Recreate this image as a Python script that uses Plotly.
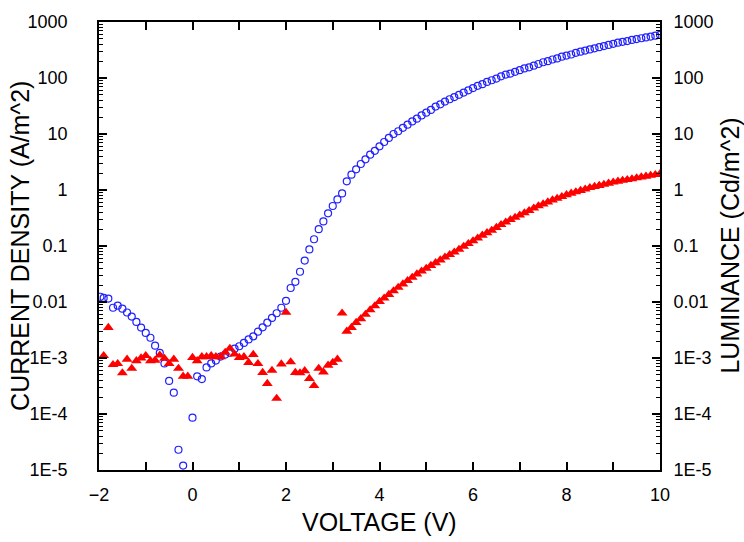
import plotly.graph_objects as go

# ---- data ----
voltage_j = [-1.97, -1.9, -1.8, -1.7, -1.6, -1.5, -1.4, -1.3, -1.2, -1.1, -1.0, -0.9, -0.8, -0.7,
             -0.6, -0.5, -0.4, -0.3, -0.2, -0.1, 0.0, 0.1, 0.2, 0.3, 0.4, 0.5, 0.6, 0.7, 0.8, 0.9,
             1.0, 1.1, 1.2, 1.3, 1.4, 1.5, 1.6, 1.7, 1.8, 1.9, 2.0, 2.1, 2.2, 2.3, 2.4, 2.5, 2.6,
             2.7, 2.8, 2.9, 3.0, 3.1, 3.2, 3.3, 3.4, 3.5, 3.6, 3.7, 3.8, 3.9, 4.0, 4.1, 4.2, 4.3,
             4.4, 4.5, 4.6, 4.7, 4.8, 4.9, 5.0, 5.1, 5.2, 5.3, 5.4, 5.5, 5.6, 5.7, 5.8, 5.9, 6.0,
             6.1, 6.2, 6.3, 6.4, 6.5, 6.6, 6.7, 6.8, 6.9, 7.0, 7.1, 7.2, 7.3, 7.4, 7.5, 7.6, 7.7,
             7.8, 7.9, 8.0, 8.1, 8.2, 8.3, 8.4, 8.5, 8.6, 8.7, 8.8, 8.9, 9.0, 9.1, 9.2, 9.3, 9.4,
             9.5, 9.6, 9.7, 9.8, 9.9, 10.0]
current_density = [0.0124, 0.0118, 0.0115, 0.0079, 0.0086, 0.0076, 0.0065, 0.0055, 0.0044, 0.0035,
                   0.0028, 0.0023, 0.00166, 0.00123, 0.0008, 0.00039, 0.00024, 2.3e-5, 1.2e-5, None,
                   8.6e-5, 0.00047, 0.00042, 0.00068, 0.0008, 0.0009, 0.00106, 0.00115, 0.00124,
                   0.00147, 0.00162, 0.00186, 0.00215, 0.00244, 0.00295, 0.00353, 0.00427, 0.0052,
                   0.0063, 0.0079, 0.0105, 0.0178, 0.0229, 0.0347, 0.055, 0.087, 0.132, 0.20, 0.275,
                   0.383, 0.518, 0.68, 0.87, 1.43, 1.88, 2.34, 2.91, 3.53, 4.27, 5.01, 6.03, 7.19,
                   8.51, 10.0, 11.2, 12.9, 14.7, 16.8, 18.8, 21.5, 24.0, 26.9, 30.9, 33.9, 38.0,
                   41.7, 45.7, 50.1, 55.0, 60.3, 66.1, 72.4, 77.6, 85.1, 91.2, 97.7, 107, 115, 120,
                   129, 138, 148, 155, 166, 178, 191, 200, 214, 224, 240, 251, 263, 282, 295, 309,
                   324, 339, 355, 372, 389, 407, 427, 442, 457, 479, 495, 513, 531, 550, 569, 589]

voltage_l = [-1.9, -1.8, -1.7, -1.6, -1.5, -1.4, -1.3, -1.2, -1.1, -1.0, -0.9, -0.8, -0.7, -0.6,
             -0.5, -0.4, -0.3, -0.2, -0.1, 0.0, 0.1, 0.2, 0.3, 0.4, 0.5, 0.6, 0.7, 0.8, 0.9, 1.0,
             1.1, 1.2, 1.3, 1.4, 1.5, 1.6, 1.7, 1.8, 1.9, 2.0, 2.1, 2.2, 2.3, 2.4, 2.5, 2.6, 2.7,
             2.8, 2.9, 3.0, 3.1, 3.2, 3.3, 3.4, 3.5, 3.6, 3.7, 3.8, 3.9, 4.0, 4.1, 4.2, 4.3, 4.4,
             4.5, 4.6, 4.7, 4.8, 4.9, 5.0, 5.1, 5.2, 5.3, 5.4, 5.5, 5.6, 5.7, 5.8, 5.9, 6.0, 6.1,
             6.2, 6.3, 6.4, 6.5, 6.6, 6.7, 6.8, 6.9, 7.0, 7.1, 7.2, 7.3, 7.4, 7.5, 7.6, 7.7, 7.8,
             7.9, 8.0, 8.1, 8.2, 8.3, 8.4, 8.5, 8.6, 8.7, 8.8, 8.9, 9.0, 9.1, 9.2, 9.3, 9.4, 9.5,
             9.6, 9.7, 9.8, 9.9, 10.0]
luminance = [0.0011, 0.0035, 0.00076, 0.00079, 0.00054, 0.00095, 0.00065, 0.00089, 0.0010, 0.0011,
             0.00089, 0.00091, 0.00112, 0.00098, 0.00079, 0.00095, 0.00065, 0.00047, 0.00047,
             0.00102, 0.00089, 0.00105, 0.00105, 0.0011, 0.00105, 0.00105, 0.00126, 0.00148,
             0.00117, 0.00102, 0.00105, 0.00083, 0.00115, 0.00079, 0.00055, 0.00035, 0.0006,
             0.00019, 0.00078, 0.0065, 0.00085, 0.00055, 0.00054, 0.00059, 0.00043, 0.00032,
             0.00065, 0.00056, 0.00074, 0.00083, 0.00095, 0.0063, 0.0030, 0.0035, 0.0043, 0.0050,
             0.0060, 0.0072, 0.0085, 0.0102, 0.0117, 0.0136, 0.0158, 0.0182, 0.0209, 0.024,
             0.0275, 0.0316, 0.0355, 0.0398, 0.0447, 0.050, 0.0562, 0.063, 0.070, 0.0776, 0.087,
             0.098, 0.110, 0.123, 0.138, 0.155, 0.172, 0.19, 0.214, 0.24, 0.266, 0.295, 0.324,
             0.355, 0.389, 0.427, 0.473, 0.519, 0.562, 0.61, 0.66, 0.708, 0.759, 0.822, 0.871,
             0.923, 0.977, 1.035, 1.10, 1.15, 1.20, 1.26, 1.32, 1.38, 1.43, 1.48, 1.53, 1.58,
             1.64, 1.70, 1.76, 1.82, 1.88, 1.95]

y_tickvals = [1e-5, 1e-4, 1e-3, 0.01, 0.1, 1, 10, 100, 1000]
y_ticktext = ["1E-5", "1E-4", "1E-3", "0.01", "0.1", "1", "10", "100", "1000"]
x_tickvals = [-2, 0, 2, 4, 6, 8, 10]

FONT = "Liberation Sans, Arial, sans-serif"
TICK_SIZE = 18
TITLE_SIZE = 25

# minor tick positions on the log axes (2..9 in every decade)
log_minor = [m * d for d in y_tickvals[:-1] for m in range(2, 10)]

fig = go.Figure()
fig.add_trace(go.Scatter(
    x=voltage_j, y=current_density, mode="markers", name="Current density",
    marker=dict(symbol="circle-open", size=7, color="#2020ff", line=dict(width=1.2, color="#2020ff")),
))
fig.add_trace(go.Scatter(
    x=voltage_l, y=luminance, mode="markers", name="Luminance", yaxis="y2",
    marker=dict(symbol="triangle-up", size=9.5, color="#ff0000", line=dict(width=0)),
))

axis_common = dict(showgrid=False, zeroline=False, showline=True, linecolor="black", linewidth=1.8,
                   ticks="inside", tickcolor="black", tickwidth=1.5, automargin=False,
                   tickfont=dict(family=FONT, size=TICK_SIZE, color="black"))

log_minor_style = dict(ticks="inside", ticklen=4, tickmode="array", tickvals=log_minor,
                       tickcolor="black", tickwidth=1, showgrid=False)

fig.update_layout(
    width=744, height=542,
    margin=dict(l=99, r=84, t=22, b=72),
    paper_bgcolor="white", plot_bgcolor="white",
    showlegend=False,
    font=dict(family=FONT, color="black"),
    xaxis=dict(range=[-2, 10], tickvals=x_tickvals, ticklen=8, mirror="allticks",
               minor=dict(ticks="inside", ticklen=5, dtick=1, tickcolor="black", tickwidth=1.5),
               ticklabelstandoff=7,
               **axis_common),
    yaxis=dict(type="log", range=[-5, 3], tickvals=y_tickvals, ticktext=y_ticktext, ticklen=8,
               minor=log_minor_style, ticklabelstandoff=26,
               **axis_common),
    yaxis2=dict(type="log", range=[-5, 3], tickvals=y_tickvals, ticktext=y_ticktext, ticklen=8,
                overlaying="y", side="right", minor=log_minor_style, ticklabelstandoff=8,
                **axis_common),
    annotations=[
        dict(text="VOLTAGE (V)", xref="paper", yref="paper", x=0.5, y=-0.116,
             xanchor="center", yanchor="middle", showarrow=False,
             font=dict(family=FONT, size=TITLE_SIZE, color="black")),
        dict(text="CURRENT DENSITY (A/m^2)", xref="paper", yref="paper", x=-0.141, y=0.5,
             xanchor="center", yanchor="middle", textangle=-90, showarrow=False,
             font=dict(family=FONT, size=TITLE_SIZE, color="black")),
        dict(text="LUMINANCE (Cd/m^2)", xref="paper", yref="paper", x=1.124, y=0.5,
             xanchor="center", yanchor="middle", textangle=-90, showarrow=False,
             font=dict(family=FONT, size=TITLE_SIZE, color="black")),
    ],
)

fig.write_html(
    "out.html",
    config={"displayModeBar": False},
    post_script="document.body.style.margin='0';document.body.style.overflow='hidden';",
)
